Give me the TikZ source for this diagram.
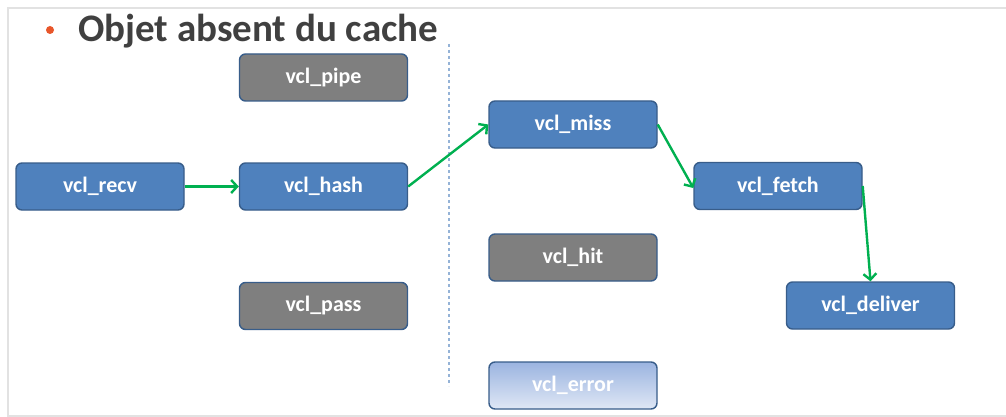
\documentclass[tikz,border=0pt]{standalone}
\usepackage{fontspec}
\setmainfont{Carlito}
\usetikzlibrary{arrows.meta}
\definecolor{boxblue}{HTML}{4F81BD}
\definecolor{boxedge}{HTML}{385D8A}
\definecolor{boxgrey}{HTML}{7F7F7F}
\definecolor{arrgreen}{HTML}{00B050}
\definecolor{titlegrey}{HTML}{404040}
\definecolor{bulletred}{HTML}{E8562A}
\definecolor{framegrey}{HTML}{E2E2E2}
\definecolor{dashblue}{HTML}{95B3D7}
\definecolor{errtop}{HTML}{9BB4E0}
\definecolor{errbot}{HTML}{DFE7F5}
\tikzset{
  vclbox/.style={draw=boxedge, line width=1.4pt, rounded corners=6pt,
    minimum width=168pt, minimum height=47pt, inner sep=0pt,
    text=white, font=\fontsize{22}{24}\selectfont\bfseries},
  bluebox/.style={vclbox, fill=boxblue},
  greybox/.style={vclbox, fill=boxgrey},
  errbox/.style={vclbox, top color=errtop, bottom color=errbot, text=white},
  flow/.style={draw=arrgreen, line width=2.4pt,
    -{Straight Barb[length=6pt,width=13pt,line width=2.4pt]}},
  framel/.style={draw=framegrey, line width=1.8pt},
}
\begin{document}
\begin{tikzpicture}[x=1pt,y=-1pt]
\useasboundingbox (0,0) rectangle (1006,417);
\fill[white] (0,0) rectangle (1006,417);
% frame
\coordinate (ftl) at (8,8);
\coordinate (ftr) at (1006,8);
\coordinate (fbl) at (8,416);
\coordinate (fbr) at (1006,416);
\draw[framel] (ftr) -- (ftl) -- (fbl) -- (fbr);
% title
\node[circle, fill=bulletred, inner sep=0pt, minimum size=8pt] (bul) at (50,30) {};
\node[anchor=base west, inner sep=0pt, text=titlegrey,
  font=\fontsize{39}{42}\selectfont\bfseries] (title) at (78,41.5) {Objet absent du cache};
% divider
\coordinate (dtop) at (449,44);
\coordinate (dbot) at (449,386);
\draw[dashblue, line width=1.2pt, dash pattern=on 3pt off 3pt] (dtop) -- (dbot);
% boxes
\node[greybox] (pipe) at (323.5,77.5) {vcl\_pipe};
\node[bluebox] (recv) at (100,186.5) {vcl\_recv};
\node[bluebox] (hash) at (323.5,186.5) {vcl\_hash};
\node[greybox] (pass) at (323.5,306) {vcl\_pass};
\node[bluebox] (miss) at (573,124.5) {vcl\_miss};
\node[greybox] (hit) at (573,257.5) {vcl\_hit};
\node[errbox] (error) at (573,385.5) {vcl\_error};
\node[bluebox] (fetch) at (778,186) {vcl\_fetch};
\node[bluebox] (deliver) at (870.5,305.5) {vcl\_deliver};
% connectors
\draw[flow] (recv.east) -- (hash.west);
\draw[flow] (hash.east) -- (miss.west);
\draw[flow] (miss.east) -- ([yshift=-2pt]fetch.west);
\draw[flow] (fetch.east) -- (deliver.north);
\end{tikzpicture}
\end{document}
